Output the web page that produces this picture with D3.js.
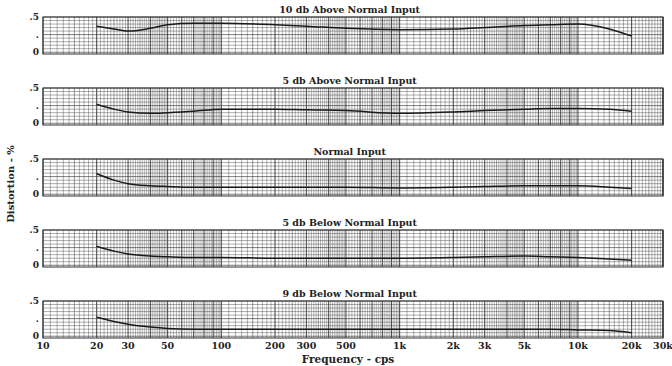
<!DOCTYPE html>
<html>
<head>
<meta charset="utf-8">
<script src="https://cdn.jsdelivr.net/npm/d3@7"></script>
<style>
  body { margin: 0; background: #fff; }
  svg text { font-family: "DejaVu Serif", serif; font-weight: bold; fill: #222; }
</style>
</head>
<body>
<div id="rootDiv"></div>
<script>
// Data
const panelTitles = [
    "10 db Above Normal Input",
    "5 db Above Normal Input",
    "Normal Input",
    "5 db Below Normal Input",
    "9 db Below Normal Input"
]
const freqs = [20, 25, 30, 40, 50, 70, 100, 200, 300, 500, 1000, 2000, 3000, 5000, 7000, 10000, 15000, 20000]
const above10 = [0.37, 0.33, 0.30, 0.34, 0.39, 0.41, 0.41, 0.39, 0.37, 0.34, 0.32, 0.33, 0.35, 0.38, 0.39, 0.40, 0.33, 0.23]
const above5 = [0.27, 0.20, 0.16, 0.14, 0.15, 0.17, 0.20, 0.20, 0.19, 0.18, 0.14, 0.16, 0.18, 0.20, 0.21, 0.21, 0.20, 0.17]
const normal = [0.29, 0.20, 0.15, 0.12, 0.11, 0.10, 0.10, 0.10, 0.10, 0.10, 0.09, 0.10, 0.11, 0.12, 0.12, 0.12, 0.10, 0.08]
const below5 = [0.27, 0.20, 0.16, 0.13, 0.12, 0.11, 0.11, 0.10, 0.10, 0.10, 0.10, 0.11, 0.12, 0.13, 0.12, 0.11, 0.09, 0.07]
const below9 = [0.27, 0.21, 0.17, 0.13, 0.11, 0.10, 0.10, 0.10, 0.10, 0.10, 0.10, 0.10, 0.10, 0.10, 0.10, 0.09, 0.08, 0.05]
const series = [above10, above5, normal, below5, below9]

const xTicks = [10, 20, 30, 50, 100, 200, 300, 500, 1000, 2000, 3000, 5000, 10000, 20000, 30000]
const xTickLabels = ["10", "20", "30", "50", "100", "200", "300", "500", "1k", "2k", "3k", "5k", "10k", "20k", "30k"]
const yTicks = [0, 0.25, 0.5]
const yTickLabels = ["0", ".", ".5"]

// Layout
const W = 672, H = 366
const left = 43, right = 663
const panelTop = 17, panelStep = 71, panelH = 37

const x = d3.scaleLog().domain([10, 30000]).range([left, right])

const svg = d3.select("#rootDiv").append("svg")
    .attr("width", W)
    .attr("height", H)

// log paper rulings: 0.1 steps up to 5, 0.2 steps from 5 to 10 in each decade
const vLines = []
for (let k = 1; k <= 1000; k *= 10) {
    for (let m = 10; m < 100; m++) {
        if (m >= 50 && m % 2 == 1) continue
        const f = k * m
        if (f > 30000) break
        vLines.push({ f, major: m % 10 == 0, mid: m % 5 == 0 })
    }
}
vLines.push({ f: 30000, major: true, mid: true })

series.forEach((vals, i) => {
    const top = panelTop + i * panelStep
    const y = d3.scaleLinear().domain([-0.025, 0.5]).range([top + panelH, top])
    const g = svg.append("g")

    g.selectAll("line.v")
        .data(vLines)
        .enter()
        .append("line")
        .attr("class", "v")
        .attr("x1", d => x(d.f)).attr("x2", d => x(d.f))
        .attr("y1", top).attr("y2", top + panelH)
        .attr("stroke", "#333")
        .attr("stroke-width", d => d.major ? 1.1 : 0.8)
        .attr("stroke-opacity", d => d.major ? 0.85 : d.mid ? 0.6 : 0.45)

    g.selectAll("line.h")
        .data(d3.range(0, 11).map(j => j * 0.05))
        .enter()
        .append("line")
        .attr("class", "h")
        .attr("x1", left).attr("x2", right)
        .attr("y1", d => y(d)).attr("y2", d => y(d))
        .attr("stroke", "#333")
        .attr("stroke-width", 0.8)
        .attr("stroke-opacity", (d, j) => j % 5 == 0 ? 0.8 : 0.5)

    g.append("rect")
        .attr("x", left).attr("y", top)
        .attr("width", right - left).attr("height", panelH)
        .attr("fill", "none")
        .attr("stroke", "#333")
        .attr("stroke-width", 1)

    // y tick labels
    g.selectAll("text.yt")
        .data(yTicks)
        .enter()
        .append("text")
        .attr("class", "yt")
        .attr("x", left - 4)
        .attr("y", d => y(d) + 3)
        .attr("text-anchor", "end")
        .attr("font-size", 9)
        .text((d, j) => yTickLabels[j])

    g.append("text")
        .attr("x", x(1000) - 50)
        .attr("y", top - 4)
        .attr("text-anchor", "middle")
        .attr("font-size", 9.5)
        .text(panelTitles[i])

    const line = d3.line()
        .x((d, j) => x(freqs[j]))
        .y(d => y(d))
        .curve(d3.curveMonotoneX)

    g.append("path")
        .datum(vals)
        .attr("d", line)
        .attr("fill", "none")
        .attr("stroke", "#1a1a1a")
        .attr("stroke-width", 1.5)
})

// x axis labels under the last panel
const bottom = panelTop + 4 * panelStep + panelH
svg.selectAll("text.xt")
    .data(xTicks)
    .enter()
    .append("text")
    .attr("class", "xt")
    .attr("x", d => x(d))
    .attr("y", bottom + 11)
    .attr("text-anchor", "middle")
    .attr("font-size", 9.5)
    .text((d, j) => xTickLabels[j])

svg.append("text")
    .attr("x", 348)
    .attr("y", bottom + 25)
    .attr("text-anchor", "middle")
    .attr("font-size", 10.5)
    .text("Frequency - cps")

svg.append("text")
    .attr("transform", "translate(14,184) rotate(-90)")
    .attr("text-anchor", "middle")
    .attr("font-size", 10)
    .text("Distortion - %")
</script>
</body>
</html>
